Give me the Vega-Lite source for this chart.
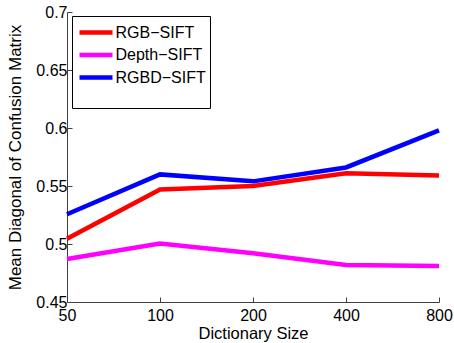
{
  "$schema": "https://vega.github.io/schema/vega-lite/v6.json",
  "autosize": "none",
  "width": 372,
  "height": 290,
  "padding": {"left": 67, "top": 12, "right": 15, "bottom": 41},
  "background": "white",
  "config": {
    "font": "Liberation Sans",
    "view": {"stroke": null},
    "axis": {
      "domainColor": "#404040",
      "tickColor": "#404040",
      "domainWidth": 1,
      "tickWidth": 1,
      "tickSize": -5,
      "grid": false,
      "labelFont": "Liberation Sans",
      "labelFontSize": 16,
      "labelColor": "black",
      "titleFont": "Liberation Sans",
      "titleFontSize": 16.5,
      "titleFontWeight": "normal",
      "titleColor": "black"
    }
  },
  "data": {
    "values": [
      {"size": 50, "method": "RGB\u2212SIFT", "value": 0.5046},
      {"size": 100, "method": "RGB\u2212SIFT", "value": 0.547},
      {"size": 200, "method": "RGB\u2212SIFT", "value": 0.550},
      {"size": 400, "method": "RGB\u2212SIFT", "value": 0.561},
      {"size": 800, "method": "RGB\u2212SIFT", "value": 0.559},
      {"size": 50, "method": "Depth\u2212SIFT", "value": 0.487},
      {"size": 100, "method": "Depth\u2212SIFT", "value": 0.5005},
      {"size": 200, "method": "Depth\u2212SIFT", "value": 0.492},
      {"size": 400, "method": "Depth\u2212SIFT", "value": 0.482},
      {"size": 800, "method": "Depth\u2212SIFT", "value": 0.481},
      {"size": 50, "method": "RGBD\u2212SIFT", "value": 0.5256},
      {"size": 100, "method": "RGBD\u2212SIFT", "value": 0.560},
      {"size": 200, "method": "RGBD\u2212SIFT", "value": 0.554},
      {"size": 400, "method": "RGBD\u2212SIFT", "value": 0.566},
      {"size": 800, "method": "RGBD\u2212SIFT", "value": 0.598}
    ]
  },
  "mark": {"type": "line", "strokeWidth": 4.5, "strokeJoin": "miter"},
  "encoding": {
    "x": {
      "field": "size",
      "type": "ordinal",
      "scale": {"type": "point", "padding": 0},
      "axis": {"title": "Dictionary Size", "labelAngle": 0, "labelPadding": 10, "titlePadding": 2}
    },
    "y": {
      "field": "value",
      "type": "quantitative",
      "scale": {"domain": [0.45, 0.7], "nice": false, "zero": false},
      "axis": {"title": "Mean Diagonal of Confusion Matrix", "titleFontSize": 17, "values": [0.45, 0.5, 0.55, 0.6, 0.65, 0.7], "labelPadding": 5, "titlePadding": 11, "labelExpr": "datum.value == 0.5 ? '0.5' : datum.value == 0.6 ? '0.6' : datum.value == 0.7 ? '0.7' : format(datum.value, '.2f')"}
    },
    "color": {
      "field": "method",
      "type": "nominal",
      "sort": ["RGB\u2212SIFT", "Depth\u2212SIFT", "RGBD\u2212SIFT"],
      "scale": {"domain": ["RGB\u2212SIFT", "Depth\u2212SIFT", "RGBD\u2212SIFT"], "range": ["#ff0000", "#ff00ff", "#0000ff"]},
      "legend": {
        "title": "\u2003\u2003\u2003\u2003\u2003\u2003\u2003\u2003\u2003",
        "titleOrient": "bottom",
        "titleFontSize": 16,
        "titlePadding": 1,
        "titleLimit": 300,
        "orient": "none",
        "legendX": 5,
        "legendY": 4,
        "strokeColor": "black",
        "fillColor": "white",
        "padding": 4,
        "symbolType": "M-1.65,0H1.65",
        "symbolStrokeWidth": 4.5,
        "symbolSize": 400,
        "symbolOffset": 7.5,
        "labelFontSize": 16,
        "labelFont": "Liberation Sans",
        "labelColor": "black",
        "rowPadding": 0.5,
        "labelOffset": 7,
        "labelLimit": 200
      }
    }
  }
}
